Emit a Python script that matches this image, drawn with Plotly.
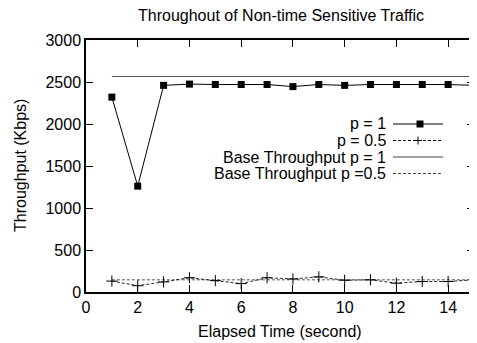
import plotly.graph_objects as go

time_s = list(range(1, 16))
p1 = [2320, 1260, 2460, 2475, 2470, 2470, 2470, 2445, 2470, 2460, 2470, 2470, 2470, 2470, 2460]
p05 = [130, 75, 120, 170, 135, 100, 170, 155, 180, 140, 145, 105, 125, 125, 145]
base_p1 = 2565
base_p05 = 145
x_ticks = [0, 2, 4, 6, 8, 10, 12, 14]
y_ticks = [0, 500, 1000, 1500, 2000, 2500, 3000]

FONT = "Liberation Sans, Arial, sans-serif"
DASH = "3px,2px"

fig = go.Figure()
fig.add_trace(go.Scatter(x=[time_s[0], time_s[-1]], y=[base_p1, base_p1], mode="lines",
                         name="Base Throughput p = 1", line=dict(color="#555", width=1)))
fig.add_trace(go.Scatter(x=[time_s[0], time_s[-1]], y=[base_p05, base_p05], mode="lines",
                         name="Base Throughput p =0.5", line=dict(color="#555", width=1, dash=DASH)))
fig.add_trace(go.Scatter(x=time_s, y=p1, mode="lines+markers", name="p = 1",
                         line=dict(color="black", width=1),
                         marker=dict(symbol="square", size=7, color="black")))
fig.add_trace(go.Scatter(x=time_s, y=p05, mode="lines+markers", name="p = 0.5",
                         line=dict(color="#222", width=1, dash=DASH),
                         marker=dict(symbol="cross-thin", size=8, line=dict(color="black", width=1))))

# page body has an 8px default margin; size the figure so that the plot lands where the reference has it
OFF = 8
W, H = 477 - OFF, 343 - OFF
L, R, T, B = 86, 474, 40, 292  # target plot-area edges in window pixels
ml, mt = L - OFF, T - OFF
mr, mb = OFF + W - R, OFF + H - B
pw, ph = R - L, B - T

def px(x):
    return (x - L) / pw

def py(y):
    return 1 - (y - T) / ph

names = ["p = 1", "p = 0.5", "Base Throughput p = 1", "Base Throughput p =0.5"]
rows = [124, 140.5, 157, 173.5]
shapes = []
annots = []
for i, (nm, ry) in enumerate(zip(names, rows)):
    annots.append(dict(x=px(388), y=py(ry), xref="paper", yref="paper", text=nm,
                       showarrow=False, xanchor="right", yanchor="middle",
                       font=dict(family=FONT, size=16, color="black")))
    dash = DASH if i in (1, 3) else "solid"
    shapes.append(dict(type="line", xref="paper", yref="paper", x0=px(393), x1=px(443),
                       y0=py(ry), y1=py(ry), line=dict(color="black" if i < 2 else "#444", width=1, dash=dash)))
shapes.append(dict(type="rect", xref="paper", yref="paper", x0=px(416.5), x1=px(423.5),
                   y0=py(rows[0] - 3.5), y1=py(rows[0] + 3.5), fillcolor="black", line=dict(width=0)))
shapes.append(dict(type="line", xref="paper", yref="paper", x0=px(418), x1=px(418),
                   y0=py(rows[1] - 4), y1=py(rows[1] + 4), line=dict(color="black", width=1)))
shapes.append(dict(type="line", xref="paper", yref="paper", x0=px(414), x1=px(422),
                   y0=py(rows[1]), y1=py(rows[1]), line=dict(color="black", width=1)))

annots.append(dict(x=px(281), y=py(16), xref="paper", yref="paper",
                   text="Throughout of Non-time Sensitive Traffic", showarrow=False,
                   xanchor="center", yanchor="middle", font=dict(family=FONT, size=16, color="black")))
annots.append(dict(x=px(280), y=py(331), xref="paper", yref="paper",
                   text="Elapsed Time (second)", showarrow=False,
                   xanchor="center", yanchor="middle", font=dict(family=FONT, size=16, color="black")))
annots.append(dict(x=px(20), y=py(166), xref="paper", yref="paper", textangle=-90,
                   text="Throughput (Kbps)", showarrow=False,
                   xanchor="center", yanchor="middle", font=dict(family=FONT, size=16, color="black")))

fig.update_layout(
    width=W, height=H,
    margin=dict(l=ml, r=mr, t=mt, b=mb, autoexpand=False),
    paper_bgcolor="white", plot_bgcolor="white",
    showlegend=False,
    font=dict(family=FONT, size=16, color="black"),
    shapes=shapes, annotations=annots,
)
fig.update_xaxes(range=[0, 15], tickvals=x_ticks, ticks="inside", ticklen=7, tickcolor="black",
                 showline=True, linecolor="black", linewidth=1.5, mirror="allticks",
                 showgrid=False, zeroline=False, tickfont=dict(size=16), automargin=False)
fig.update_yaxes(range=[0, 3000], tickvals=y_ticks, ticks="inside", ticklen=7, tickcolor="black",
                 showline=True, linecolor="black", linewidth=1.5, mirror="allticks",
                 showgrid=False, zeroline=False, tickfont=dict(size=16), automargin=False)

fig.write_html("out.html")
